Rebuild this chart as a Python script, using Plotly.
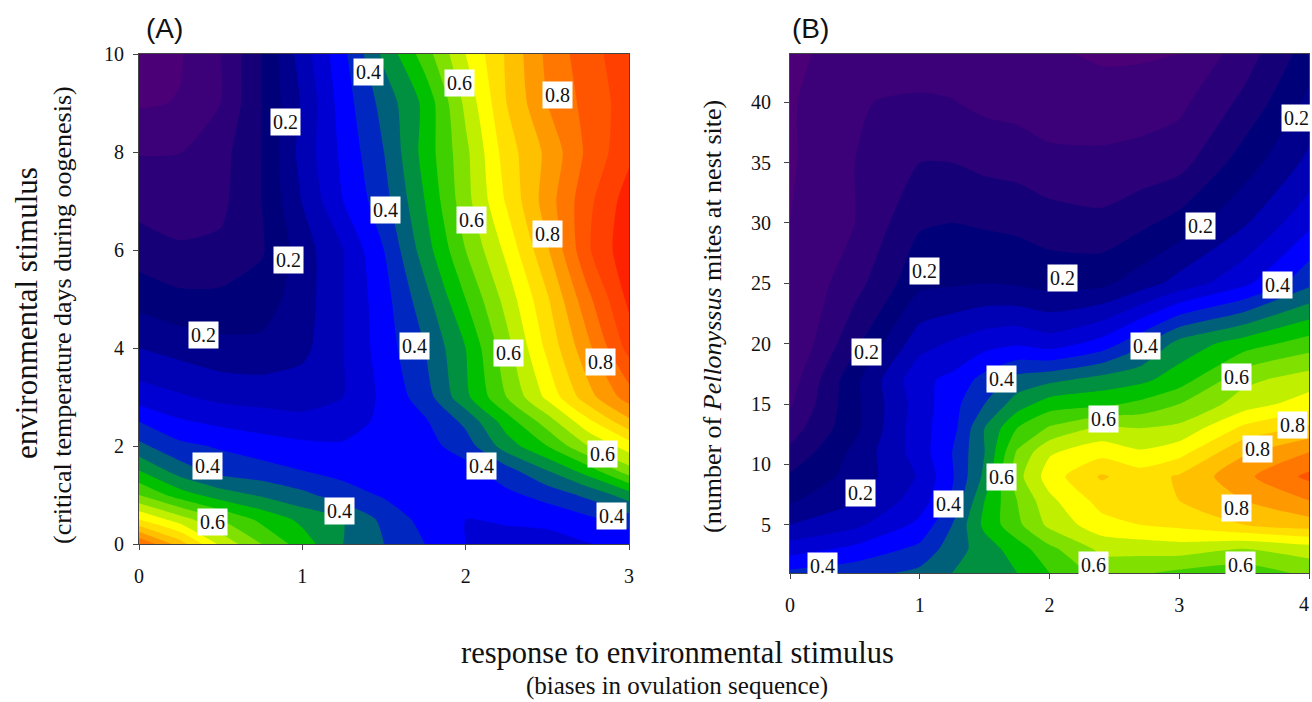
import plotly.graph_objects as go

band_colors = ["#4b0078","#3c0078","#2c0078","#160078","#000078","#00008c","#0000b4","#0000d2","#0000ff",
               "#0028c0","#00607a","#009040","#00c000","#40d000","#80e000","#c0f000","#ffff00","#ffe000",
               "#ffc000","#ff9900","#ff7700","#ff5500","#ff4000","#ff2200"]
level_start, level_step = 0.0, 0.04

xa = [0,.25,.5,.75,1,1.25,1.5,1.75,2,2.25,2.5,2.75,3]
ya = [0,.5,1,1.5,2,2.5,3,4,5,6,7,8,9,10]
za = [
 [.84,.74,.63,.56,.50,.44,.40,.36,.32,.305,.305,.318,.33],
 [.68,.62,.56,.51,.47,.44,.39,.345,.32,.325,.33,.35,.38],
 [.56,.50,.46,.435,.41,.38,.355,.335,.33,.35,.375,.41,.46],
 [.48,.42,.385,.375,.36,.345,.335,.335,.345,.385,.44,.50,.585],
 [.41,.37,.355,.34,.33,.325,.33,.345,.38,.46,.52,.60,.66],
 [.36,.325,.31,.30,.29,.30,.33,.355,.41,.50,.58,.67,.75],
 [.30,.285,.27,.265,.265,.28,.33,.38,.47,.56,.65,.745,.82],
 [.24,.225,.212,.21,.228,.28,.34,.40,.48,.585,.69,.79,.895],
 [.185,.17,.17,.18,.22,.28,.345,.425,.52,.615,.715,.83,.93],
 [.14,.125,.128,.155,.22,.28,.36,.46,.56,.65,.755,.875,.95],
 [.105,.10,.11,.16,.242,.32,.385,.48,.585,.685,.78,.87,.94],
 [.078,.079,.105,.16,.255,.33,.40,.495,.59,.70,.77,.85,.91],
 [.035,.042,.08,.16,.245,.34,.415,.49,.61,.72,.80,.855,.90],
 [.02,.036,.08,.16,.26,.35,.45,.54,.64,.725,.81,.865,.905],
]

xb = [0,.5,1,1.25,1.5,1.75,2,2.4,2.7,3,3.5,4]
yb = [1,3,5,7,9,11,13,15,17,20,25,30,35,40,44]
zb = [
 [.37,.385,.41,.44,.46,.48,.52,.575,.565,.55,.535,.57],
 [.30,.33,.37,.42,.46,.50,.55,.61,.615,.62,.60,.62],
 [.24,.27,.33,.40,.49,.55,.61,.665,.68,.69,.72,.74],
 [.195,.235,.30,.365,.48,.56,.63,.695,.70,.72,.76,.80],
 [.165,.215,.285,.355,.45,.585,.66,.725,.70,.725,.79,.85],
 [.13,.21,.30,.36,.44,.565,.635,.665,.645,.665,.755,.80],
 [.10,.19,.305,.345,.44,.52,.565,.61,.60,.61,.69,.73],
 [.075,.19,.30,.345,.40,.46,.50,.51,.53,.56,.62,.66],
 [.06,.19,.31,.33,.375,.415,.43,.455,.47,.50,.59,.62],
 [.04,.15,.265,.285,.305,.315,.30,.335,.39,.455,.50,.54],
 [.04,.105,.19,.195,.20,.195,.185,.19,.22,.255,.31,.39],
 [.04,.08,.155,.16,.155,.15,.14,.13,.15,.175,.235,.31],
 [.035,.08,.12,.12,.11,.105,.09,.09,.095,.105,.18,.25],
 [.035,.078,.085,.082,.07,.065,.06,.055,.06,.07,.13,.21],
 [.035,.05,.06,.058,.055,.05,.045,.035,.035,.04,.10,.18],
]

labels_a = ["0.4","0.6","0.8","0.2","0.4","0.6","0.8","0.2","0.2","0.4","0.6","0.8","0.4","0.4","0.6","0.4","0.6","0.4"]
label_xa = [1.408,1.965,2.565,.894,1.512,2.033,2.504,.918,.392,1.684,2.265,2.828,.422,2.094,2.84,1.23,.453,2.89]
label_ya = [9.63,9.41,9.16,8.61,6.82,6.61,6.33,5.80,4.27,4.04,3.90,3.71,1.59,1.59,1.84,.67,.45,.57]
labels_b = ["0.2","0.2","0.2","0.2","0.4","0.2","0.4","0.6","0.4","0.6","0.8","0.8","0.6","0.2","0.4","0.8","0.4","0.6","0.6"]
label_xb = [3.90,3.16,1.04,2.10,3.76,.586,2.74,3.44,1.63,2.42,3.87,3.60,1.63,.547,1.225,3.445,.254,2.34,3.47]
label_yb = [38.7,29.75,26.0,25.4,24.9,19.3,19.8,17.2,17.1,13.8,13.3,11.3,8.95,7.63,6.72,6.39,1.58,1.66,1.66]

SERIF = "Liberation Serif"
n = len(band_colors)
level_end = level_start + level_step*n
scale = []
for i, c in enumerate(band_colors):
    scale += [[i/n, c], [(i+1)/n, c]]

def contour(x, y, z, xref, yref):
    return go.Contour(x=x, y=y, z=z, xaxis=xref, yaxis=yref, showscale=False,
        colorscale=scale, zmin=level_start, zmax=level_end, autocontour=False,
        contours=dict(start=level_start, end=level_end, size=level_step, coloring="fill", showlines=False),
        line=dict(width=0, smoothing=0.6), hoverinfo="skip")

fig = go.Figure([contour(xa, ya, za, "x", "y"), contour(xb, yb, zb, "x2", "y2")])

axis_style = dict(showgrid=False, zeroline=False, showline=True, linecolor="#444444", linewidth=1, mirror=True,
                  ticks="outside", ticklen=5, tickcolor="#444444", tickfont=dict(family=SERIF, size=20, color="#111111"))
fig.update_layout(
    width=1312, height=702, margin=dict(l=0, r=0, t=0, b=0, autoexpand=False),
    paper_bgcolor="white", plot_bgcolor="white", showlegend=False,
    xaxis=dict(domain=[139/1312, 629/1312], range=[0,3], tickvals=[0,1,2,3], anchor="y", ticklabelstandoff=9, **axis_style),
    yaxis=dict(domain=[1-544/702, 1-54/702], range=[0,10], tickvals=[0,2,4,6,8,10], anchor="x", ticklabelstandoff=5, **axis_style),
    xaxis2=dict(domain=[790/1312, 1309/1312], range=[0,4], tickvals=[0,1,2,3,4], anchor="y2", ticklabelstandoff=9, **axis_style),
    yaxis2=dict(domain=[1-573/702, 1-54/702], range=[1,44], tickvals=[5,10,15,20,25,30,35,40], anchor="x2", ticklabelstandoff=9, **axis_style),
)

ann = []
for t, x, y in zip(labels_a, label_xa, label_ya):
    ann.append(dict(text=t, x=x, y=y, xref="x", yref="y", showarrow=False, bgcolor="white", borderpad=2,
                    font=dict(family=SERIF, size=20, color="#111111")))
for t, x, y in zip(labels_b, label_xb, label_yb):
    ann.append(dict(text=t, x=x, y=y, xref="x2", yref="y2", showarrow=False, bgcolor="white", borderpad=2,
                    font=dict(family=SERIF, size=20, color="#111111")))

def paper(text, px, py, size, family=SERIF, angle=0):
    ann.append(dict(text=text, x=px/1312, y=1-py/702, xref="paper", yref="paper", showarrow=False,
                    xanchor="center", yanchor="middle",
                    textangle=angle, font=dict(family=family, size=size, color="#111111")))

paper("(A)", 164, 28, 28, "Liberation Sans")
paper("(B)", 810, 28, 28, "Liberation Sans")
paper("environmental stimulus", 26, 313, 31, angle=-90)
paper("(critical temperature days during oogenesis)", 62, 315, 26, angle=-90)
paper("(number of <i>Pellonyssus</i> mites at nest site)", 712, 317, 26, angle=-90)
paper("response to environmental stimulus", 677, 653, 30.5)
paper("(biases in ovulation sequence)", 677, 686, 25)
paper("4", 1304, 604, 20)
fig.update_layout(annotations=ann)

fig.write_html("out.html", config=dict(displayModeBar=False), post_script="document.body.style.margin='0';")
